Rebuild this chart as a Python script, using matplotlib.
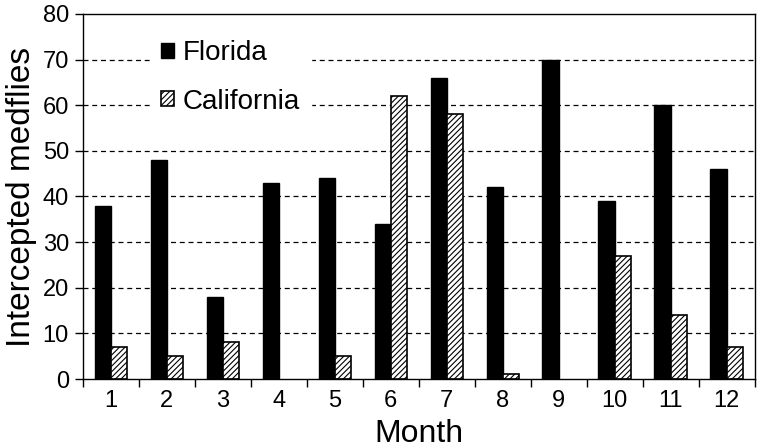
import numpy as np
import matplotlib.pyplot as plt

plt.rcParams['font.family'] = ['Liberation Sans', 'DejaVu Sans']
plt.rcParams['hatch.linewidth'] = 0.8

# data
months = [str(m) for m in range(1, 13)]
florida = [38, 48, 18, 43, 44, 34, 66, 42, 70, 39, 60, 46]
california = [7, 5, 8, 0, 5, 62, 58, 1, 0, 27, 14, 7]

x = np.arange(len(months))
w = 0.29

fig = plt.figure(figsize=(7.6, 4.48), dpi=100)
ax = fig.add_axes([0.109, 0.154, 0.884, 0.815])

ax.bar(x - w / 2, florida, w, color='black', edgecolor='black', label='Florida', zorder=3)
cal_edges = ['black' if v > 0 else 'none' for v in california]
ax.bar(x + w / 2, california, w, color='white', edgecolor=cal_edges, linewidth=1.2,
       hatch='//////', label='California', zorder=3)

ax.set_xlim(-0.5, 11.5)
ax.set_ylim(0, 80)
ax.set_yticks(range(0, 81, 10))
ax.set_xticks(x)
ax.set_xticklabels(months)
ax.set_xticks(np.arange(-0.5, 12, 1), minor=True)
ax.tick_params(axis='x', which='major', length=0, labelsize=17, pad=8)
ax.tick_params(axis='x', which='minor', length=6, direction='out', width=1)
ax.tick_params(axis='y', length=6, width=1, labelsize=17, pad=4)

for v in range(10, 80, 10):
    ax.axhline(v, color='black', linestyle=(0, (4, 3)), linewidth=0.9, zorder=1)

# full box around the plot area
for s in ax.spines.values():
    s.set_linewidth(1)
    s.set_zorder(4)

ax.set_xlabel('Month', fontsize=23, labelpad=5)
ax.set_ylabel('Intercepted medflies', fontsize=24, labelpad=4)

leg = ax.legend(loc='upper left', bbox_to_anchor=(0.1, 0.958), frameon=True, fontsize=20,
                handlelength=0.47, handleheight=0.47, handletextpad=0.3, labelspacing=0.8,
                borderpad=0.4, borderaxespad=0, fancybox=False)
leg.get_frame().set_edgecolor('white')
leg.get_frame().set_facecolor('white')
leg.get_frame().set_alpha(1)
leg.set_zorder(5)

fig.savefig('out.png', dpi=100)
